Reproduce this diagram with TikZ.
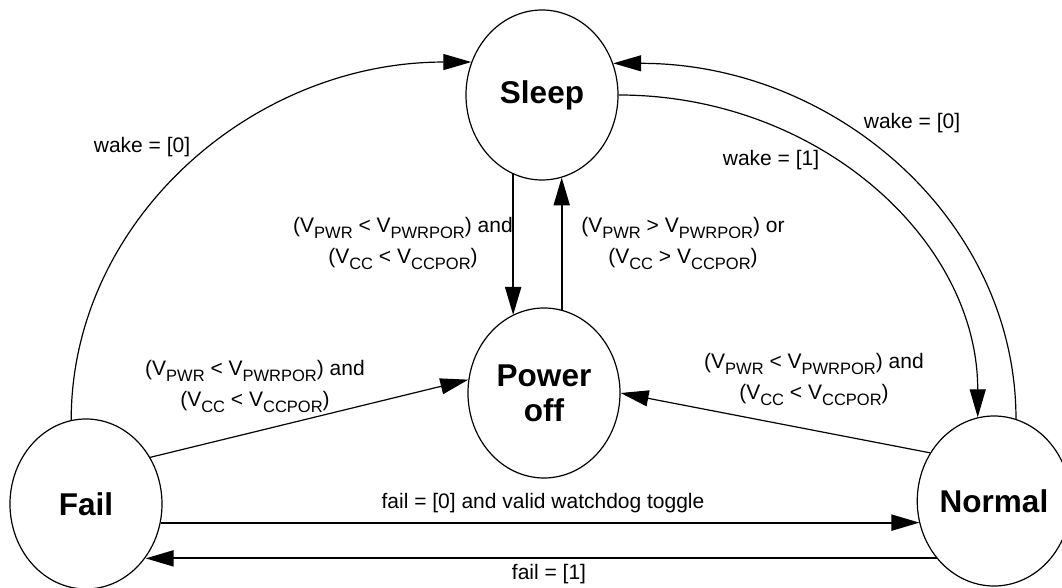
\documentclass[tikz,border=0pt]{standalone}
\usepackage{fontspec}
\setmainfont{Liberation Sans}
\usetikzlibrary{shapes.geometric, arrows.meta}
\newcommand{\Vs}[1]{V\raisebox{-3pt}{\fontsize{8.25}{9}\selectfont #1}}

\begin{document}
\begin{tikzpicture}[
    x=0.5pt, y=-0.5pt,
    state/.style={
        ellipse, draw, line width=0.6pt, inner sep=0pt,
        minimum width=76pt, minimum height=85pt, align=center,
        font=\fontsize{15.75}{17.5}\selectfont\bfseries
    },
    cond/.style    ={align=center, inner sep=0pt, font=\fontsize{10.5}{15.5}\selectfont},
    thinarr/.style ={draw, line width=0.6pt, -{Triangle[length=14pt, width=8pt]}},
    thickarr/.style={draw, line width=1pt,   -{Triangle[length=14pt, width=8pt]}}
]
\useasboundingbox (0,0) rectangle (1062,588);

% states
\node [state] (sleep)    at (542,95)  {Sleep};
\node [state] (poweroff) at (544,393) {Power\\off};
\node [state] (fail)     at (86,504)  {Fail};
\node [state] (normal)   at (994,501) {Normal};

% transitions
\draw [thinarr] (fail.100) .. controls +(0,-198) and +(-221,0) .. (sleep.155);
\draw [thinarr] (sleep.east) .. controls +(199,0) and +(0,-178) .. (normal.101);
\draw [thinarr] (normal.75) .. controls +(0,-198) and +(223,0) .. (sleep.24);
\draw [thickarr] (sleep.250) -- (sleep.250 |- poweroff.112);
\draw [thickarr] (poweroff.78) -- (poweroff.78 |- sleep.284);
\draw [thinarr] (fail.36) -- (poweroff.170);
\draw [thinarr] (normal.143) -- (poweroff.east);
\draw [thickarr] (fail.-14) -- (fail.-14 -| normal.197);
\draw [thickarr] (normal.225) -- (normal.225 -| fail.-42);

% labels
\node [cond] (wakeleft)  at (142,147) {wake = [0]};
\node [cond] (wakeone)   at (771,160) {wake = [1]};
\node [cond] (wakeright) at (912,123) {wake = [0]};
\node [cond] (sleepdown) at (403,243) {(\Vs{PWR} < \Vs{PWRPOR}) and\\(\Vs{CC} < \Vs{CCPOR})};
\node [cond] (offup)     at (683,243) {(\Vs{PWR} > \Vs{PWRPOR}) or\\(\Vs{CC} > \Vs{CCPOR})};
\node [cond] (failoff)   at (255,386) {(\Vs{PWR} < \Vs{PWRPOR}) and\\(\Vs{CC} < \Vs{CCPOR})};
\node [cond] (normaloff) at (814,379) {(\Vs{PWR} < \Vs{PWRPOR}) and\\(\Vs{CC} < \Vs{CCPOR})};
\node [cond] (tonormal)  at (543,503) {fail = [0] and valid watchdog toggle};
\node [cond] (tofail)    at (549,574) {fail = [1]};
\end{tikzpicture}
\end{document}
